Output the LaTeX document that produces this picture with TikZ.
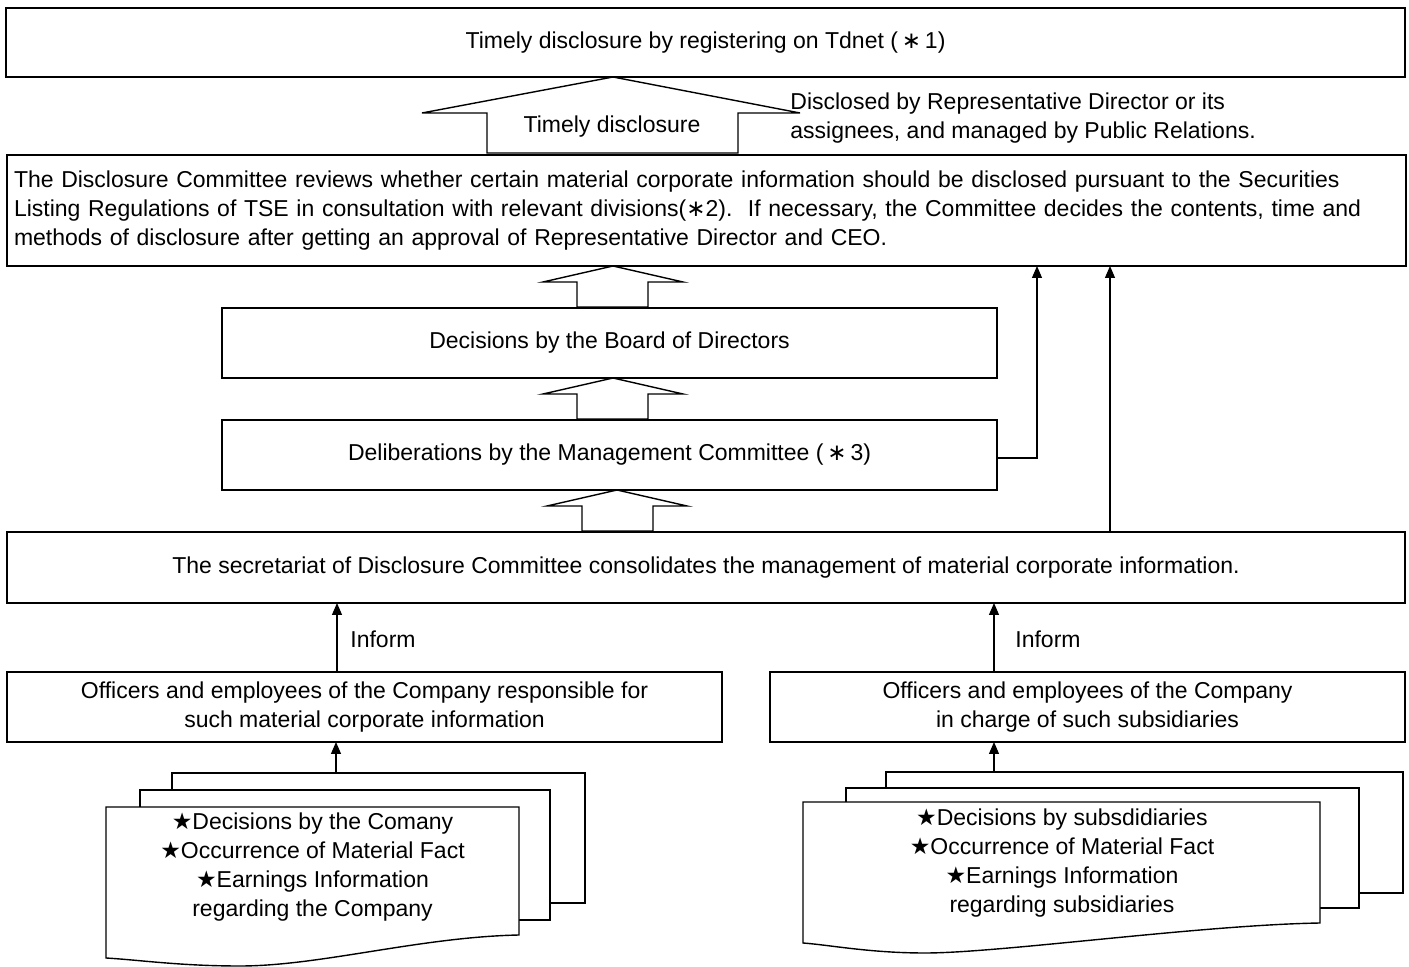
\documentclass[tikz,border=0pt]{standalone}
\usepackage{fontspec}
\setmainfont{Liberation Sans}
\newfontfamily\sym{DejaVu Sans}
\usetikzlibrary{arrows.meta,calc}
\begin{document}
\begin{tikzpicture}[x=0.5pt,y=-0.5pt,
 font=\fontsize{11.5pt}{14.5pt}\selectfont,
 box/.style={draw,line width=1pt,inner sep=0pt,outer sep=0pt,align=center},
 hollow/.style={draw,line width=0.7pt,fill=white,line join=miter},
 sheet/.style={draw,line width=0.7pt,fill=white},
 conn/.style={draw,line width=0.6pt,-{Triangle[length=6pt,width=5pt]}},
 lbl/.style={inner sep=0pt,align=left}]
\useasboundingbox (0,0) rectangle (1409,967);

% top box
\node[box,minimum width=699.5pt,minimum height=34.5pt] (top) at (705.5,42.5)
  {Timely disclosure by registering on Tdnet (\,{\sym ∗}\,1)};

% big hollow arrow
\draw[hollow] (613,77) -- (800,113) -- (738,113) -- (738,153) -- (487,153) -- (487,113) -- (422,113) -- cycle;
\node[lbl] (tdlabel) at (612,127) {Timely disclosure};
\node[lbl,anchor=west] (discl) at (790,118)
  {Disclosed by Representative Director or its\\assignees, and managed by Public Relations.};

% disclosure committee
\node[box,minimum width=699.5pt,minimum height=55.5pt,inner xsep=3.75pt,text width=692pt,align=left] (dc) at (706,210.5)
  {The Disclosure Committee reviews whether certain material corporate information should be disclosed pursuant to the Securities\\
   Listing Regulations of TSE in consultation with relevant divisions({\sym ∗}2).\ \ If necessary, the Committee decides the contents, time and\\
   methods of disclosure after getting an approval of Representative Director and CEO.};

% board
\node[box,minimum width=387.5pt,minimum height=35pt] (board) at (609.5,343) {Decisions by the Board of Directors};
\draw[hollow] (613,266) -- (683,282) -- (648,282) -- (648,307) -- (577,307) -- (577,282) -- (543,282) -- cycle;

% management committee
\node[box,minimum width=387.5pt,minimum height=35pt] (mgmt) at (609.5,455) {Deliberations by the Management Committee (\,{\sym ∗}\,3)};
\draw[hollow] (613,378) -- (683,394) -- (648,394) -- (648,419) -- (577,419) -- (577,394) -- (543,394) -- cycle;

% secretariat
\node[box,minimum width=699pt,minimum height=35.5pt] (sec) at (706,567.5)
  {The secretariat of Disclosure Committee consolidates the management of material corporate information.};
\draw[hollow] (617,490) -- (687,506) -- (653,506) -- (653,531) -- (582,531) -- (582,506) -- (547,506) -- cycle;

% thin connectors to DC
\coordinate (j1) at (1037,458);
\draw[conn] (mgmt.east |- j1) -- (j1) -- (j1 |- dc.south);
\coordinate (j2) at (1110,0);
\draw[conn] (j2 |- sec.north) -- (j2 |- dc.south);

% officers
\node[box,minimum width=357.5pt,minimum height=35pt] (offL) at (364.5,707)
  {Officers and employees of the Company responsible for\\such material corporate information};
\node[box,minimum width=317.5pt,minimum height=35pt] (offR) at (1087.5,707)
  {Officers and employees of the Company\\in charge of such subsidiaries};

\coordinate (ia) at (337,0);
\draw[conn] (ia |- offL.north) -- (ia |- sec.south);
\node[lbl,anchor=west] (infL) at (350,639) {Inform};
\coordinate (ib) at (994,0);
\draw[conn] (ib |- offR.north) -- (ib |- sec.south);
\node[lbl,anchor=west] (infR) at (1015,639) {Inform};

% left documents
\draw[sheet] (172,773) rectangle (585,903);
\draw[sheet] (140,790) rectangle (550,920);
\draw[sheet] (106,807) -- (519,807) -- (519,935) .. controls (420,937) and (320,966) .. (240,966) .. controls (180,966) and (140,960) .. (106,958) -- cycle;
\node[align=center,inner sep=0pt] (docL) at (312.5,867)
  {{\sym ★}Decisions by the Comany\\{\sym ★}Occurrence of Material Fact\\{\sym ★}Earnings Information\\regarding the Company};
\coordinate (dL) at (336,773);
\draw[conn] (dL) -- (dL |- offL.south);

% right documents
\draw[sheet] (886,772) rectangle (1403,893);
\draw[sheet] (846,788) rectangle (1359,908);
\draw[sheet] (803,802) -- (1320,802) -- (1320,923) .. controls (1200,925) and (1000,953) .. (925,953) .. controls (870,953) and (830,945) .. (803,943) -- cycle;
\node[align=center,inner sep=0pt] (docR) at (1062,863)
  {{\sym ★}Decisions by subsdidiaries\\{\sym ★}Occurrence of Material Fact\\{\sym ★}Earnings Information\\regarding subsidiaries};
\coordinate (dR) at (994,772);
\draw[conn] (dR) -- (dR |- offR.south);
\end{tikzpicture}
\end{document}
